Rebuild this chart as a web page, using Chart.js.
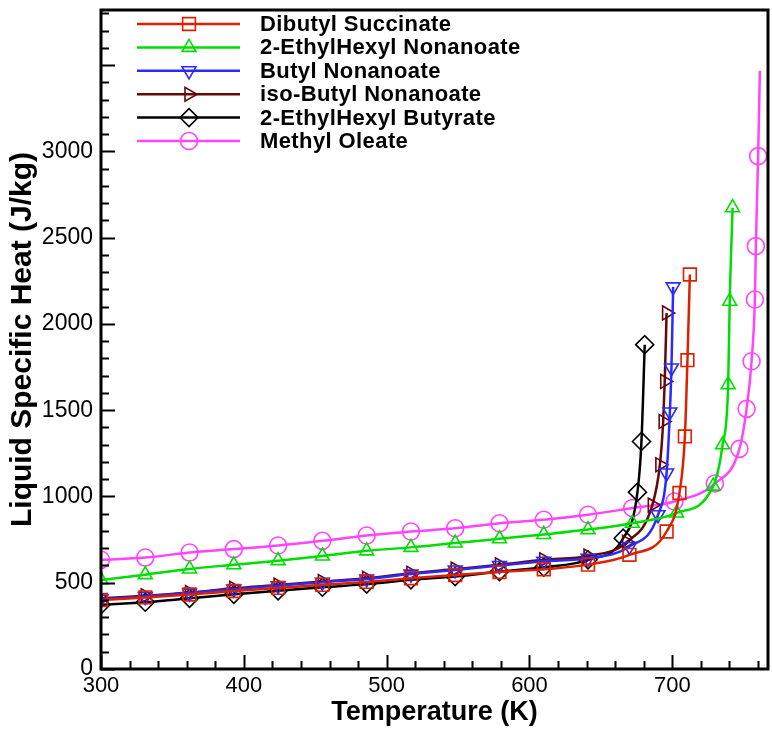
<!DOCTYPE html>
<html>
<head>
<meta charset="utf-8">
<script src="https://cdn.jsdelivr.net/npm/chart.js@4.4.0/dist/chart.umd.min.js"></script>
<style>
  html, body { margin: 0; padding: 0; background: #fff; }
  #wrap { width: 772px; height: 734px; }
</style>
</head>
<body>
<div id="wrap"><canvas id="c" width="772" height="734"></canvas></div>
<script>
// ---- Data (Temperature K, Liquid specific heat J/kg) ----
const seriesNames = ["Dibutyl Succinate", "2-EthylHexyl Nonanoate", "Butyl Nonanoate",
                     "iso-Butyl Nonanoate", "2-EthylHexyl Butyrate", "Methyl Oleate"];

const dsT  = [300,331,362,393,424,455,486,517,548,579,610,641,670,696,705,708.8,710.6,712.3];
const dsCp = [400,415,432,452,470,488,505,526,545,562,578,605,662,797,1020,1348,1790,2287];

const ehnT  = [300,331,362,393,424,455,486,517,548,579,610,641,672,703,728.6,735.2,739.1,740.2,742.2];
const ehnCp = [516,547,580,604,628,655,685,705,730,755,780,808,845,904,1060,1300,1648,2132,2674];

const bnT  = [300,331,362,393,424,455,486,517,548,579,610,641,670,690,696,698.3,699.4,700.6];
const bnCp = [405,420,440,463,483,503,522,550,574,600,625,642,710,894,1136,1490,1745,2215];

const ibnT  = [300,331,362,393,424,455,486,517,548,579,610,641,668,686,691.3,693.6,694.7,696];
const ibnCp = [410,424,443,468,487,507,526,555,579,604,633,655,735,950,1184,1435,1667,2064];

const ehbT  = [300,331,362,393,424,455,486,517,548,579,610,641,665.6,675.6,678.4,680.7];
const ehbCp = [372,387,410,433,453,474,492,517,536,565,590,633,758,1025,1319,1880];

const moT  = [300,331,362,393,424,455,486,517,548,579,610,641,672,701.5,729.8,747,752,755.5,757.8,758.5,760.1,761.3];
const moCp = [633,646,675,695,716,743,774,797,816,845,865,894,933,971,1075,1276,1508,1784,2142,2451,2973,3467];
const moNoMarker = [21]; // last point: line only

const xTickLabels = [300, 400, 500, 600, 700];
const yTickLabels = [0, 500, 1000, 1500, 2000, 2500, 3000];

// ---- Styles ----
const colors = ["#dd2000", "#00dd00", "#2a2aff", "#650808", "#000000", "#ff44ff"];
const styles = [
  {pointStyle: 'rect', rotation: 0, radius: 9},
  {pointStyle: 'triangle', rotation: 0, radius: 8},
  {pointStyle: 'triangle', rotation: 180, radius: 8},
  {pointStyle: 'triangle', rotation: 90, radius: 8},
  {pointStyle: 'rectRot', rotation: 0, radius: 9},
  {pointStyle: 'circle', rotation: 0, radius: 8.5}
];
const seriesT = [dsT, ehnT, bnT, ibnT, ehbT, moT];
const seriesCp = [dsCp, ehnCp, bnCp, ibnCp, ehbCp, moCp];
const noMarkers = [[], [], [], [], [], moNoMarker];

const datasets = seriesNames.map((name, i) => ({
  label: name,
  data: seriesT[i].map((t, k) => ({x: t, y: seriesCp[i][k]})),
  borderColor: colors[i],
  borderWidth: 2.5,
  backgroundColor: 'rgba(0,0,0,0)',
  pointBackgroundColor: 'rgba(0,0,0,0)',
  pointBorderColor: colors[i],
  pointBorderWidth: 1.6,
  pointStyle: styles[i].pointStyle,
  pointRotation: styles[i].rotation,
  pointRadius: (ctx) => noMarkers[i].includes(ctx.dataIndex) ? 0 : styles[i].radius,
  pointHoverRadius: 0,
  cubicInterpolationMode: 'monotone',
  fill: false
}));

const X_MIN = 300, X_MAX = 767, Y_MIN = 0, Y_MAX = 3820;
const FONT = '"Liberation Sans", Arial, sans-serif';

const frameTicks = {
  id: 'frameTicks',
  afterDraw(chart) {
    const {ctx, chartArea: a, scales: {x, y}} = chart;
    ctx.save();
    ctx.strokeStyle = '#000';
    ctx.lineWidth = 2;
    ctx.beginPath();
    for (let v = 300; v <= 760; v += 20) {
      const px = Math.round(x.getPixelForValue(v)) + 0.5;
      const len = (v % 100 === 0) ? 14 : 8;
      ctx.moveTo(px, a.bottom); ctx.lineTo(px, a.bottom - len);
    }
    for (let v = 0; v <= 3800; v += 100) {
      const py = Math.round(y.getPixelForValue(v)) + 0.5;
      const len = (v % 500 === 0) ? 14 : 8;
      ctx.moveTo(a.left, py); ctx.lineTo(a.left + len, py);
    }
    ctx.stroke();
    ctx.lineWidth = 3;
    ctx.strokeRect(a.left, a.top, a.right - a.left, a.bottom - a.top);
    ctx.restore();
  }
};

const lineLegend = {
  id: 'lineLegend',
  afterDraw(chart) {
    const ctx = chart.ctx;
    ctx.save();
    ctx.font = 'bold 22px ' + FONT;
    try { ctx.letterSpacing = '0.4px'; } catch (e) {}
    ctx.textBaseline = 'middle';
    ctx.textAlign = 'left';
    chart.data.datasets.forEach((ds, i) => {
      const yy = 24 + i * 23.4;
      ctx.strokeStyle = colors[i];
      ctx.lineWidth = 2.5;
      ctx.beginPath(); ctx.moveTo(137, yy); ctx.lineTo(240, yy); ctx.stroke();
      ctx.fillStyle = 'rgba(0,0,0,0)';
      ctx.lineWidth = 1.6;
      Chart.helpers.drawPoint(ctx, {pointStyle: styles[i].pointStyle, rotation: styles[i].rotation,
                                    radius: styles[i].radius, borderWidth: 1.6}, 189, yy);
      ctx.fillStyle = '#000';
      ctx.fillText(ds.label, 260, yy + 1);
    });
    ctx.restore();
  }
};

function noPad(s) { s.paddingTop = 0; s.paddingBottom = 0; s.paddingLeft = 0; s.paddingRight = 0; }

new Chart(document.getElementById('c'), {
  type: 'line',
  data: {datasets},
  plugins: [frameTicks, lineLegend],
  options: {
    responsive: false,
    animation: false,
    events: [],
    layout: {autoPadding: false, padding: {top: 10, right: 4, left: 0, bottom: 0}},
    plugins: {legend: {display: false}, tooltip: {enabled: false}},
    scales: {
      x: {
        type: 'linear', min: X_MIN, max: X_MAX,
        afterFit: (s) => { s.height = 65; noPad(s); },
        afterBuildTicks: (s) => { s.ticks = xTickLabels.map(v => ({value: v})); },
        grid: {display: false, drawTicks: false},
        border: {display: false},
        ticks: {color: '#000', padding: 4, callback: (v) => String(v),
                font: {family: FONT, size: 22}},
        title: {display: true, text: 'Temperature (K)', color: '#000', padding: {top: 0, bottom: 5},
                font: {family: FONT, size: 27, weight: 'bold'}}
      },
      y: {
        type: 'linear', min: Y_MIN, max: Y_MAX,
        afterFit: (s) => { s.width = 101; noPad(s); },
        afterBuildTicks: (s) => { s.ticks = yTickLabels.map(v => ({value: v})); },
        grid: {display: false, drawTicks: false},
        border: {display: false},
        ticks: {color: '#000', padding: 8, callback: (v) => String(v),
                font: {family: FONT, size: 23}},
        title: {display: true, text: 'Liquid Specific Heat (J/kg)', color: '#000', padding: {top: 5, bottom: 0},
                font: {family: FONT, size: 30, weight: 'bold'}}
      }
    }
  }
});
</script>
</body>
</html>
